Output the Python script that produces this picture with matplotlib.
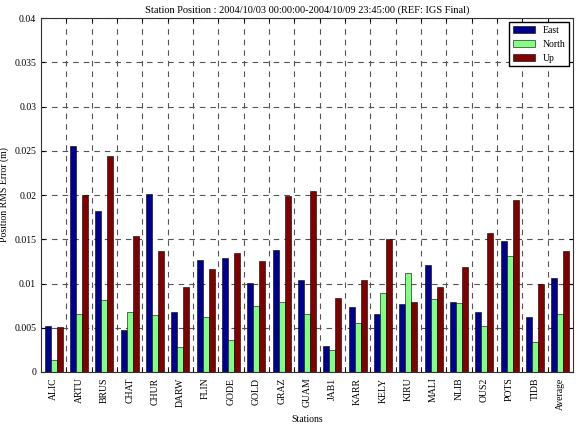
"""Grouped bar chart of station position RMS error."""

import matplotlib

matplotlib.use("Agg")
import matplotlib.pyplot as plt  # noqa: E402
import numpy as np  # noqa: E402
from matplotlib.ticker import FixedLocator  # noqa: E402

stations = ["ALIC", "ARTU", "BRUS", "CHAT", "CHUR", "DARW", "FLIN", "GODE", "GOLD", "GRAZ",
            "GUAM", "JAB1", "KARR", "KELY", "KIRU", "MALI", "NLIB", "OUS2", "POTS", "TIDB",
            "Average"]
east = [0.0052, 0.0255, 0.0182, 0.0047, 0.0201, 0.0068, 0.0127, 0.0129, 0.0101, 0.0138,
        0.0104, 0.0029, 0.0073, 0.0066, 0.0077, 0.0121, 0.0079, 0.0068, 0.0148, 0.0062,
        0.0106]
north = [0.0013, 0.0065, 0.0081, 0.0068, 0.0064, 0.0028, 0.0062, 0.0036, 0.0075, 0.0079,
         0.0065, 0.0025, 0.0055, 0.0089, 0.0112, 0.0082, 0.0078, 0.0052, 0.0131, 0.0034,
         0.0065]
up = [0.0051, 0.0200, 0.0244, 0.0154, 0.0137, 0.0096, 0.0116, 0.0134, 0.0125, 0.0199,
      0.0205, 0.0084, 0.0104, 0.0150, 0.0079, 0.0096, 0.0119, 0.0157, 0.0194, 0.0099,
      0.0137]

plt.rcParams["font.family"] = ["Liberation Serif", "DejaVu Serif"]

fig = plt.figure(figsize=(5.79, 4.32), dpi=100)
ax = fig.add_axes([0.0708, 0.1389, 0.9188, 0.8194])

x = np.arange(1, len(stations) + 1)
w = 0.24
ax.bar(x - w, east, w, color="#00008f", edgecolor="black", linewidth=0.4, label="East")
ax.bar(x, north, w, color="#80ff80", edgecolor="black", linewidth=0.4, label="North")
ax.bar(x + w, up, w, color="#800000", edgecolor="black", linewidth=0.4, label="Up")

ax.set_xlim(0.5, len(stations) + 0.5)
ax.set_ylim(0, 0.04)
ax.set_xticks(x)
ax.set_xticklabels(stations, rotation=90, fontsize=7)
ax.xaxis.set_minor_locator(FixedLocator(np.arange(1.5, len(stations), 1.0)))
ax.set_yticks(np.arange(0, 0.0401, 0.005))
ax.set_yticklabels(["0"] + [f"{v:g}" for v in np.arange(0.005, 0.0401, 0.005)], fontsize=7)
ax.tick_params(axis="x", which="major", length=0, pad=4)
ax.tick_params(axis="x", which="minor", direction="in", length=3, top=True)
ax.tick_params(axis="y", direction="in", length=3, right=True)

ax.grid(True, axis="x", which="minor", linestyle=(0, (5, 4.5)), color="#555555", linewidth=0.8)
ax.grid(True, axis="y", which="major", linestyle=(0, (5, 4.5)), color="#555555", linewidth=0.8)
ax.set_axisbelow(True)
for s in ax.spines.values():
    s.set_color("#333333")

ax.set_title("Station Position : 2004/10/03 00:00:00-2004/10/09 23:45:00 (REF: IGS Final)",
             fontsize=7.5, pad=4)
ax.set_xlabel("Stations", fontsize=7)
ax.set_ylabel("Position RMS Error (m)", fontsize=7)
ax.legend(loc="upper right", fontsize=7, fancybox=False, edgecolor="black",
          framealpha=1, handlelength=2.2, borderaxespad=0.4)

fig.savefig("out.png", dpi=100)
